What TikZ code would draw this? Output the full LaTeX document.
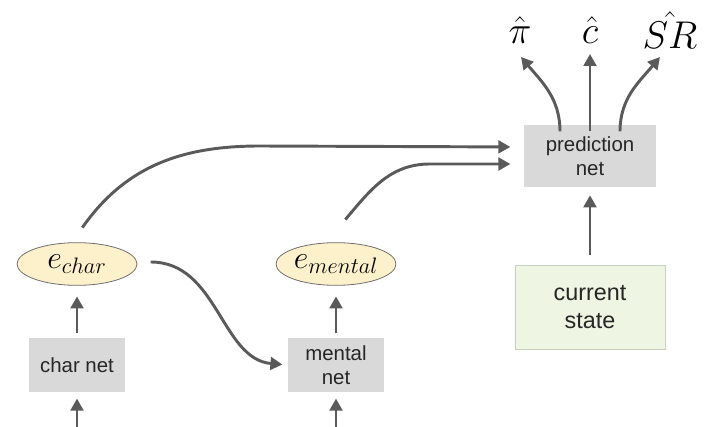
\RequirePackage{fix-cm}
\documentclass[tikz,border=0pt]{standalone}
\usepackage{fontspec}
\setmainfont{Liberation Sans}
\usepackage{amsmath}
\usepackage{tikz}
\usetikzlibrary{arrows.meta,calc,shapes.geometric}

\definecolor{flowgray}{HTML}{5A5A5A}
\definecolor{netgray}{HTML}{D9D9D9}
\definecolor{statefill}{HTML}{EEF5E2}
\definecolor{stateline}{HTML}{C8D0BE}
\definecolor{embfill}{HTML}{FDF1CC}
\definecolor{embline}{HTML}{6E6E6E}

\begin{document}
\begin{tikzpicture}[x=0.75pt, y=-0.75pt,
    netbox/.style={fill=netgray, align=center, inner sep=0pt,
      text=black!85, font=\fontsize{15.3}{18}\selectfont},
    statebox/.style={fill=statefill, draw=stateline, line width=0.6pt,
      align=center, inner sep=0pt, text=black!85,
      font=\fontsize{17.5}{21}\selectfont},
    embed/.style={ellipse, fill=embfill, draw=embline, line width=0.6pt,
      inner sep=0pt, minimum width=90pt, minimum height=32pt,
      font=\fontsize{24}{28}\selectfont},
    outlabel/.style={inner sep=0pt, font=\fontsize{29}{32}\selectfont},
    flow/.style={draw=flowgray, line width=2.2pt,
      -{Triangle[length=9pt, width=9.5pt]}}]
    \useasboundingbox (0, 0) rectangle (704, 427);

    % nets
    \node [netbox, minimum width=72pt, minimum height=41pt]
      (charnet) at ( 77, 365) {char net};
    \node [netbox, minimum width=72pt, minimum height=41pt]
      (mentalnet) at (336, 365) {mental\\net};
    \node [netbox, minimum width=99pt, minimum height=46.5pt]
      (prednet) at (590, 156) {prediction\\net};
    \node [statebox, minimum width=112.5pt, minimum height=63pt]
      (state) at (590, 307) {current\\state};

    % embeddings
    \node [embed] (echar)   at ( 77, 264) {$e_{char}$};
    \node [embed] (emental) at (336, 264) {$e_{mental}$};

    % outputs
    \node [outlabel] (pihat) at (520, 30) {$\hat{\pi}$};
    \node [outlabel] (chat)  at (590, 30) {$\hat{c}$};
    \node [outlabel] (srhat) at (670, 30) {$\hat{SR}$};

    % free ends and bends
    \coordinate (charin)   at ( 77, 427);
    \coordinate (mentalin) at (336, 427);
    \coordinate (pitip)    at (521, 57);
    \coordinate (ctip)     at (590, 54);
    \coordinate (srtip)    at (660, 57);
    \coordinate (charbend)   at (260, 146);
    \coordinate (mentalbend) at (430, 164);

    % straight arrows
    \draw [flow, shorten >=4.5pt] (charin) -- (charnet.south);
    \draw [flow, shorten >=4.5pt] (mentalin) -- (mentalnet.south);
    \draw [flow, shorten <=3pt, shorten >=8pt] (charnet.north) -- (echar.south);
    \draw [flow, shorten <=3pt, shorten >=8pt] (mentalnet.north) -- (emental.south);
    \draw [flow, shorten <=7.5pt, shorten >=6pt] (state.north) -- (prednet.south);

    % curved arrows
    \draw [flow, shorten >=4pt]
      ([xshift=10pt, yshift=1.5pt]echar.east) to [out=0, in=175] (mentalnet.west);
    \draw [flow, shorten >=10pt]
      ([xshift=4pt, yshift=11pt]echar.north) to [out=55, in=180] (charbend)
      -- ([yshift=6.75pt]prednet.west);
    \draw [flow, shorten >=10pt]
      ([xshift=7pt, yshift=17pt]emental.north) to [out=50, in=180] (mentalbend)
      -- ([yshift=-6pt]prednet.west);

    % prediction outputs
    \draw [flow] ([xshift=-22.5pt, yshift=-5pt]prednet.north)
      to [out=90, in=-50] (pitip);
    \draw [flow] ([yshift=-5pt]prednet.north) -- (ctip);
    \draw [flow] ([xshift=22.5pt, yshift=-5pt]prednet.north)
      to [out=90, in=230] (srtip);
\end{tikzpicture}
\end{document}
